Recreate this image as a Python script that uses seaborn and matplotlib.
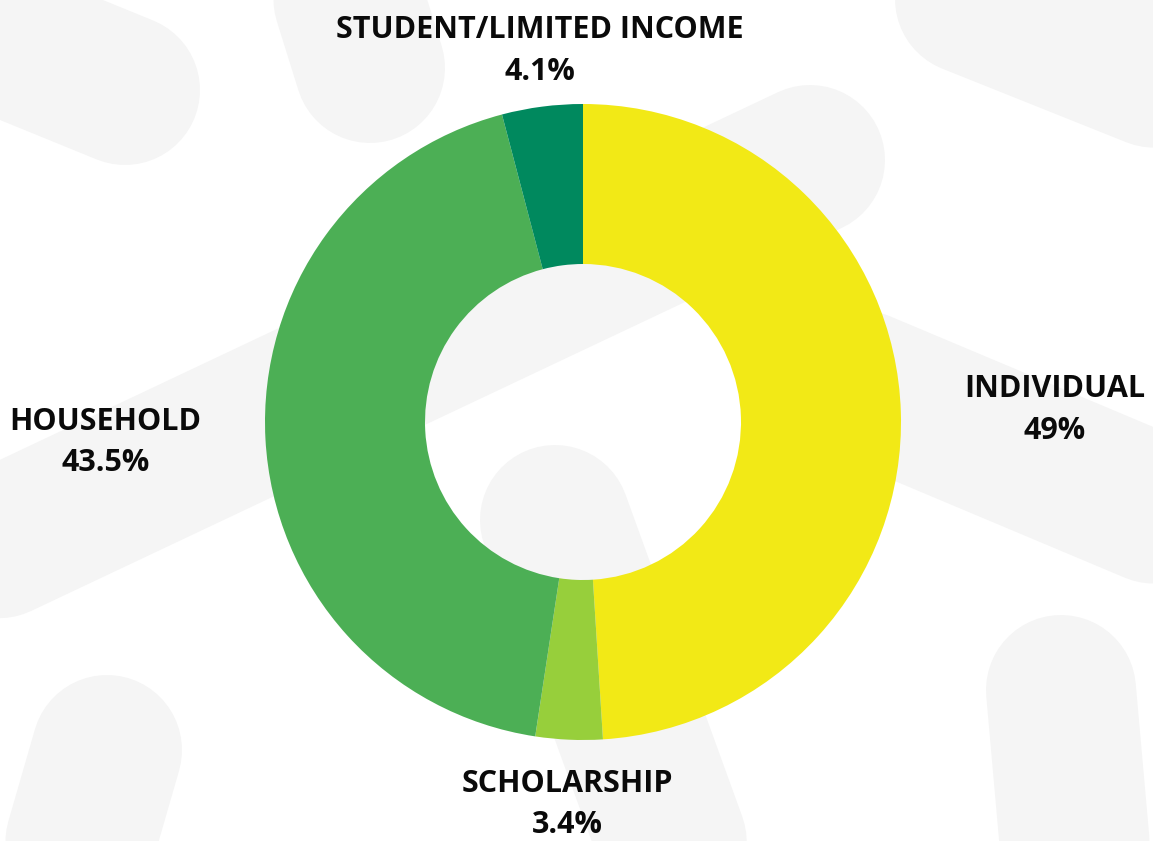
import matplotlib
matplotlib.use("Agg")
import matplotlib.pyplot as plt
import seaborn as sns
import numpy as np

# data
labels = ["INDIVIDUAL", "SCHOLARSHIP", "HOUSEHOLD", "STUDENT/LIMITED INCOME"]
shares = [49, 3.4, 43.5, 4.1]
share_text = ["49%", "3.4%", "43.5%", "4.1%"]
colors = ["#F2E916", "#97CF3B", "#4CAF55", "#00895E"]

sns.set_style("white")
plt.rcParams["font.family"] = ["Open Sans", "DejaVu Sans"]

W, H = 1153, 841
fig = plt.figure(figsize=(W / 100, H / 100), dpi=100)
ax = fig.add_axes([0, 0, 1, 1])

# faint decorative strokes in the background (image pixel coords)
bg_strokes = [
    ((-100, 590), (810, 160)),
    ((-120, -10), (125, 90)),
    ((330, -60), (370, 68)),
    ((860, -45), (1260, 115)),
    ((860, 385), (1300, 570)),
    ((555, 520), (700, 920)),
    ((107, 750), (55, 930)),
    ((1061, 690), (1085, 960)),
    ((455, 905), (455, 1000)),
]
for (x0, y0), (x1, y1) in bg_strokes:
    ax.plot([x0, x1], [H - y0, H - y1], color="#F5F5F5", lw=150 * 0.72,
            solid_capstyle="round", zorder=0)

cx, cy = 583, H - 422
R = 318
wedges, _ = ax.pie(shares, colors=colors, startangle=90, counterclock=False,
                   radius=R, center=(cx, cy),
                   wedgeprops=dict(width=160, linewidth=0))
for w in wedges:
    w.set_zorder(2)

# labels outside each slice
for w, lab, pct in zip(wedges, labels, share_text):
    ang = np.deg2rad((w.theta1 + w.theta2) / 2)
    c, s = np.cos(ang), np.sin(ang)
    r = R * (1.065 - 0.02 * s + 0.135 * abs(c))
    ha = "left" if c > 0.5 else ("right" if c < -0.5 else "center")
    va = "bottom" if s > 0.5 else ("top" if s < -0.5 else "center")
    ax.text(cx + r * c, cy + r * s, f"{lab}\n{pct}", ha=ha, va=va,
            multialignment="center", fontsize=22, fontweight="bold",
            color="#0a0a0a", linespacing=1.5, zorder=3)

ax.set_xlim(0, W)
ax.set_ylim(0, H)
ax.set_aspect("equal")
ax.axis("off")

fig.savefig("out.png", dpi=100, facecolor="white")
